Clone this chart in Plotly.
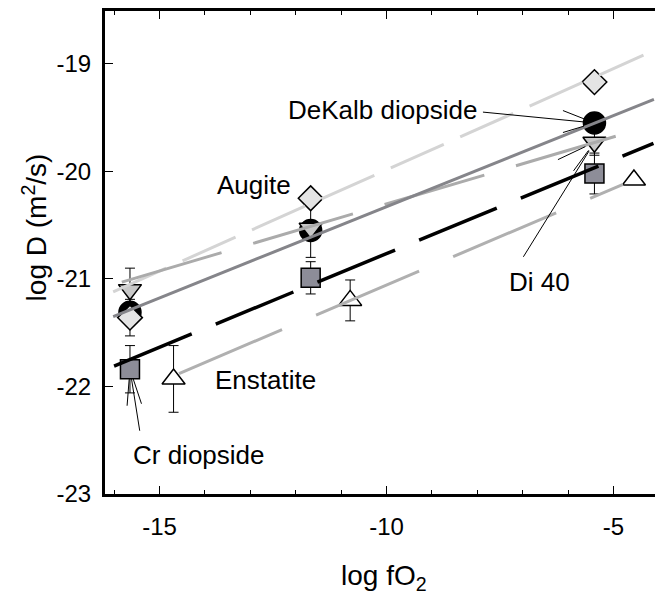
import plotly.graph_objects as go

# ---------------- data ----------------
# log fO2 of the three pyroxene runs and of the enstatite runs
x_px = [-15.65, -11.67, -5.42]
x_en = [-14.69, -10.80, -4.55]

augite_y = [-21.36, -20.25, -19.17]
augite_err = [0.17, None, None]
dekalb_y = [-21.31, -20.55, -19.55]
dekalb_err = [None, 0.25, None]
di40_y = [-21.10, -20.53, -19.73]
di40_err = [0.20, None, 0.12]
crdi_y = [-21.84, -20.99, -20.02]
crdi_err = [0.22, 0.15, 0.19]
enst_y = [-21.93, -21.20, -20.08]
enst_err = [0.31, 0.19, None]

# fitted lines (end points)
augite_fit_x = [-16.02, -4.34]
augite_fit_y = [-21.12, -18.92]
dekalb_fit_x = [-16.02, -4.11]
dekalb_fit_y = [-21.35, -19.33]
di40_fit_x = [-15.83, -4.76]
di40_fit_y = [-21.03, -19.65]
crdi_fit_x = [-16.00, -4.12]
crdi_fit_y = [-21.81, -19.74]
enst_fit_x = [-14.57, -4.79]
enst_fit_y = [-21.88, -20.12]

x_tickvals = [-15, -10, -5]
x_ticktext = ["-15", "-10", "-5"]
y_tickvals = [-23, -22, -21, -20, -19]
y_ticktext = ["-23", "-22", "-21", "-20", "-19"]

FONT = "Liberation Sans, Arial, sans-serif"

fig = go.Figure()

def err(arr):
    return dict(type="data", array=arr, visible=True, color="black", thickness=1, width=5)

def markers(x, y, e, symbol, fill, size, name):
    fig.add_trace(go.Scatter(
        x=x, y=y, mode="markers", name=name, error_y=err(e),
        marker=dict(symbol=symbol, size=size, color=fill, line=dict(color="black", width=1.5)),
        showlegend=False, hoverinfo="skip"))

markers(x_en, enst_y, enst_err, "triangle-up", "white", 20, "Enstatite")
markers(x_px, crdi_y, crdi_err, "square", "#8d8d98", 19, "Cr diopside")
markers(x_px, dekalb_y, dekalb_err, "circle", "black", 22, "DeKalb diopside")
markers(x_px, di40_y, di40_err, "triangle-down", "#c8c8c8", 20, "Di 40")
markers(x_px, augite_y, augite_err, "diamond", "#e4e4e4", 19, "Augite")

def fit(x, y, color, width, dash):
    fig.add_trace(go.Scatter(x=x, y=y, mode="lines",
                             line=dict(color=color, width=width, dash=dash),
                             showlegend=False, hoverinfo="skip"))

fit(augite_fit_x, augite_fit_y, "#d4d4d4", 3, "58px,18px")
fit(di40_fit_x, di40_fit_y, "#ababab", 3, "104px,33px")
fit(enst_fit_x, enst_fit_y, "#b0b0b0", 3, "112px,37px")
fit(dekalb_fit_x, dekalb_fit_y, "#85858a", 3, "solid")
fit(crdi_fit_x, crdi_fit_y, "black", 3.5, "84px,26px")

# dummy trace for the right-hand tick axis
fig.add_trace(go.Scatter(x=[None], y=[None], yaxis="y2", showlegend=False, hoverinfo="skip"))

# ---------------- labels ----------------
ann = []
def label(text, x, y, xanchor):
    ann.append(dict(text=text, x=x, y=y, xref="x", yref="y", xanchor=xanchor, yanchor="middle",
                    showarrow=False, font=dict(family=FONT, size=26, color="black")))

label("DeKalb diopside", -7.96, -19.43, "right")
label("Augite", -12.06, -20.13, "right")
label("Di 40", -7.35, -21.03, "left")
label("Enstatite", -13.82, -21.94, "left")
label("Cr diopside", -15.63, -22.64, "left")

def leader(x, y, ax, ay, standoff):
    ann.append(dict(text="", x=x, y=y, xref="x", yref="y", ax=ax, ay=ay, showarrow=True,
                    arrowhead=0, arrowwidth=1, arrowcolor="black", standoff=standoff))

# DeKalb diopside -> circle at highest fO2
for ax, ay in [(-113, -11), (-33, -13), (-33, 10)]:
    leader(x_px[2], dekalb_y[2], ax, ay, 11)
# Di 40 -> down triangle at highest fO2
for ax, ay in [(-72, 116), (-38, 18), (-22, 30)]:
    leader(x_px[2], di40_y[2], ax, ay, 10)
# Cr diopside -> square at lowest fO2
for ax, ay in [(10, 63), (-3, 38), (12, 36)]:
    leader(x_px[0], crdi_y[0], ax, ay, 10)

# axis titles
ann.append(dict(text="log fO<sub>2</sub>", xref="paper", yref="paper", x=0.5, y=0,
                xanchor="center", yanchor="top", yshift=-64, showarrow=False,
                font=dict(family=FONT, size=28, color="black")))
ann.append(dict(text="log D (m<sup>2</sup>/s)", xref="paper", yref="paper", x=0, y=0.552,
                xanchor="center", yanchor="middle", xshift=-70, textangle=-90, showarrow=False,
                font=dict(family=FONT, size=28, color="black")))

# the page body adds an 8 px offset; the figure is sized so the plot sits where the reference has it
fig.update_layout(
    width=655, height=590,
    margin=dict(l=97, r=0, t=1, b=104),
    paper_bgcolor="white", plot_bgcolor="white",
    annotations=ann,
    xaxis=dict(range=[-16.2, -3.91], showline=True, linewidth=3, linecolor="black",
               mirror="ticks", ticks="inside", ticklen=8, tickwidth=1, tickcolor="black",
               tickvals=x_tickvals, ticktext=x_ticktext, showgrid=False, zeroline=False,
               tickfont=dict(family=FONT, size=24, color="black"), ticklabelstandoff=9,
               minor=dict(dtick=1, tick0=0, ticks="inside", ticklen=4, tickwidth=1, tickcolor="black")),
    yaxis=dict(range=[-23, -18.509], showline=True, linewidth=3, linecolor="black",
               ticks="inside", ticklen=8, tickwidth=1, tickcolor="black",
               tickvals=y_tickvals, ticktext=y_ticktext, showgrid=False, zeroline=False,
               tickfont=dict(family=FONT, size=24, color="black"), ticklabelstandoff=6),
    yaxis2=dict(range=[-23, -18.509], overlaying="y", side="right", showline=False,
                ticks="inside", ticklen=8, tickwidth=1, tickcolor="black",
                tickvals=y_tickvals, showticklabels=False, showgrid=False, zeroline=False),
)

fig.write_html("out.html")
